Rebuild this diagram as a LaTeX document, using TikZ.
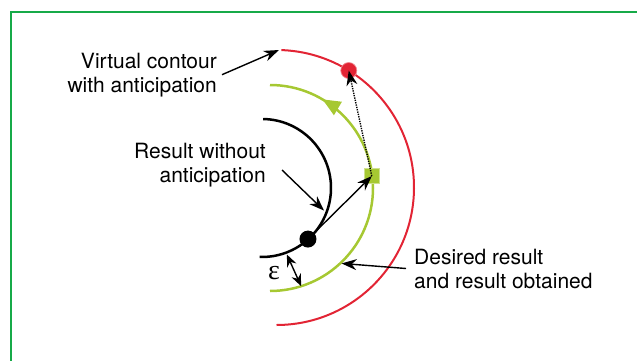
\documentclass[tikz,border=0pt]{standalone}
\usepackage{fontspec}
\setmainfont{TeX Gyre Heros}
\newfontfamily\epsfont{Liberation Serif}
\usetikzlibrary{arrows.meta}
\usetikzlibrary{calc}
\usetikzlibrary{decorations.markings}
\definecolor{framegreen}{RGB}{22,170,72}
\definecolor{contourred}{RGB}{226,36,52}
\definecolor{limegreen}{RGB}{166,200,50}

\begin{document}
\begin{tikzpicture}[x=1pt, y=1pt,
    labeltext/.style={font=\fontsize{21}{24}\selectfont, inner sep=0pt},
    pointer/.style={-{Stealth[length=15pt, width=11pt]}, line width=1.4pt},
    contour/.style={line width=2pt}]
	\useasboundingbox (0, 0) rectangle (637, 360);
	\clip (0, 0) rectangle (637, 360);
	% frame, open at right and bottom
	\draw[color=framegreen, line width=2.2pt] (11, -5) -- (11, 348) -- (645, 348);

	% centres of the three contours
	\coordinate (rc) at (276.5, 172.5);
	\coordinate (gc) at (270, 172);
	\coordinate (bc) at (262, 172);

	\draw[contour, color=contourred, line width=2pt] ($(rc)+(88:137.5)$) arc (88:-90:137.5);
	\draw[contour, color=limegreen, line width=2.5pt,
	      postaction={decorate, decoration={markings,
	        mark=at position 0.83 with {\arrow{Triangle[length=18pt, width=15pt]}}}}]
	      ($(gc)+(-90:103)$) arc (-90:90:103);
	\draw[contour, color=black, line width=2.5pt] ($(bc)+(89:69)$) arc (89:-92:69);

	% points on the contours
	\node[circle, fill=contourred, draw=contourred!55!white, line width=0.7pt, minimum size=16pt, inner sep=0pt] (rdot) at ($(rc)+(58.3:137.5)$) {};
	\node[rectangle, fill=limegreen, draw=limegreen!55!white, line width=0.9pt, minimum size=15pt, inner sep=0pt] (gsq) at ($(gc)+(6.7:102.5)$) {};
	\node[circle, fill=black, minimum size=17pt, inner sep=0pt] (bdot) at ($(bc)+(-48:68.7)$) {};

	\draw[pointer] (bdot.center) -- (gsq.center);
	\draw[pointer, dash pattern=on 1.3pt off 1.1pt] (gsq.center) -- (rdot.center);

	% labels
	\node[labeltext, align=right, anchor=east] (vlabel) at (217, 285.3) {Virtual contour\\with anticipation};
	\node[labeltext, align=right, anchor=east] (rlabel) at (266, 195) {Result without\\anticipation};
	\node[labeltext, align=left, anchor=west] (dlabel) at (414, 91.5) {Desired result\\and result obtained};

	\coordinate (vtip) at ($(rc)+(89:137.5)$);
	\coordinate (rtip) at ($(bc)+(-20:66)$);
	\coordinate (dtip) at ($(gc)+(-46.5:104)$);
	\draw[pointer] ([xshift=5pt]vlabel.east) -- (vtip);
	\draw[pointer] ([shift={(16pt,-5pt)}]rlabel.east) -- (rtip);
	\draw[pointer] ([xshift=-8pt]dlabel.west) -- (dtip);

	% epsilon gap
	\coordinate (e1) at ($(bc)+(-69.5:71)$);
	\coordinate (e2) at ($(gc)+(-72.4:103)$);
	\draw[{Stealth[length=12pt, width=10pt]}-{Stealth[length=12pt, width=10pt]}, line width=1.4pt] (e1) -- (e2);
	\node[font=\epsfont\fontsize{28}{30}\selectfont, inner sep=0pt] (eps) at (274, 87) {ε};
\end{tikzpicture}
\end{document}
